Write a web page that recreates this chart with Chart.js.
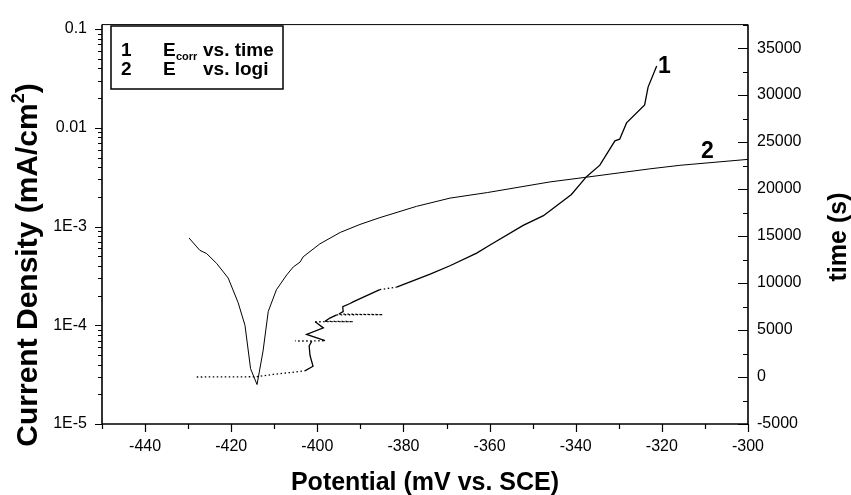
<!DOCTYPE html>
<html>
<head>
<meta charset="utf-8">
<script src="https://cdn.jsdelivr.net/npm/chart.js@4"></script>
<style>
  html, body { margin: 0; padding: 0; background: #fff; }
  #wrap { width: 851px; height: 495px; position: relative; }
</style>
</head>
<body>
<div id="wrap"><canvas id="polChart"></canvas></div>
<script>
// curve 2: E vs. log i  (potential in mV, current density in mA/cm2)
const potential2 = [-429.8, -427.3, -425.7, -423.4, -420.7, -418.4, -416.8, -415.5, -414.0,
  -412.6, -411.4, -409.5, -407.1, -405.6, -404.0, -403.3, -399.4, -394.7, -390.1, -385.5,
  -377.0, -369.2, -360.5, -346.0, -337.5, -322.8, -315.8, -300.0];
const current2 = [7.66e-4, 5.75e-4, 5.32e-4, 4.24e-4, 3.01e-4, 1.70e-4, 1.0e-4, 3.63e-5, 2.51e-5,
  5.50e-5, 1.38e-4, 2.29e-4, 3.24e-4, 3.89e-4, 4.37e-4, 4.93e-4, 6.68e-4, 8.71e-4, 1.05e-3, 1.23e-3,
  1.60e-3, 1.94e-3, 2.21e-3, 2.83e-3, 3.16e-3, 3.84e-3, 4.17e-3, 4.79e-3];

// curve 1: Ecorr vs. time (potential in mV, time in s)
const potential1 = [-428.0, -414.1, -410.2, -402.9, -401.0, -401.7, -401.9, -401.3, -405.2, -398.2,
  -402.5, -398.6, -400.5, -391.7, -398.2, -397.1, -395.5, -384.8, -395.0, -394.0, -394.1, -392.4,
  -391.7, -385.5, -381.6, -373.8, -369.2, -363.0, -359.9, -352.2, -347.5, -341.0, -337.5, -334.4,
  -330.9, -329.8, -328.2, -324.0, -323.2, -321.2];
const time1 = [0, 30, 280, 650, 1140, 2290, 3320, 3800, 3840, 3860,
  4540, 5230, 5880, 5900, 5920, 6270, 6620, 6640, 6700, 6960, 7480, 7820,
  8000, 9300, 9560, 10940, 11840, 13190, 14050, 16130, 17170, 19420, 21320, 22540,
  25130, 25310, 27040, 28950, 30850, 33100];

const potentialTicks = [-440, -420, -400, -380, -360, -340, -320, -300];
const currentTicks = [1e-5, 1e-4, 1e-3, 1e-2, 1e-1];
const currentTickLabels = ['1E-5', '1E-4', '1E-3', '0.01', '0.1'];
const timeTicks = [-5000, 0, 5000, 10000, 15000, 20000, 25000, 30000, 35000];

const FONT = '"Liberation Sans", Arial, sans-serif';
Chart.defaults.font.family = FONT;
Chart.defaults.color = '#000';

function fixTicks(values) {
  return scale => { scale.ticks = values.map(v => ({ value: v })); };
}

// axes, ticks, titles, legend box and curve numbers
const framePlugin = {
  id: 'frame',
  afterDraw(chart) {
    const { ctx, chartArea: a, scales } = chart;
    const x = scales.x, yI = scales.yI, yT = scales.yT;
    ctx.save();
    ctx.strokeStyle = '#000';
    ctx.fillStyle = '#000';

    // frame
    ctx.lineWidth = 1;
    ctx.beginPath();
    ctx.moveTo(a.left, a.top); ctx.lineTo(a.right, a.top);
    ctx.stroke();
    ctx.lineWidth = 1.6;
    ctx.beginPath();
    ctx.moveTo(a.left, a.top); ctx.lineTo(a.left, a.bottom);
    ctx.lineTo(a.right, a.bottom); ctx.lineTo(a.right, a.top);
    ctx.stroke();

    ctx.lineWidth = 1.2;
    ctx.beginPath();
    // bottom ticks, every 10 mV
    for (let v = -450; v <= -300; v += 10) {
      const px = Math.round(x.getPixelForValue(v)) + 0.5;
      const len = v % 20 === 0 ? 8 : 5;
      ctx.moveTo(px, a.bottom); ctx.lineTo(px, a.bottom + len);
    }
    // left log ticks
    for (let d = -5; d <= -1; d++) {
      for (let m = 1; m <= 9; m++) {
        const v = m * Math.pow(10, d);
        if (v > yI.max) continue;
        const py = Math.round(yI.getPixelForValue(v)) + 0.5;
        const len = m === 1 ? 7 : 4;
        ctx.moveTo(a.left - len, py); ctx.lineTo(a.left, py);
      }
    }
    // right ticks (inward)
    for (let v = -5000; v <= 37500; v += 2500) {
      const py = Math.round(yT.getPixelForValue(v)) + 0.5;
      const len = v % 5000 === 0 ? 10 : 5;
      ctx.moveTo(a.right - len, py); ctx.lineTo(a.right, py);
    }
    ctx.stroke();

    // axis titles
    ctx.font = 'bold 25px ' + FONT;
    ctx.textAlign = 'center';
    ctx.textBaseline = 'alphabetic';
    ctx.fillText('Potential (mV vs. SCE)', (a.left + a.right) / 2, 490);

    ctx.save();
    ctx.translate(846, 237);
    ctx.rotate(-Math.PI / 2);
    ctx.fillText('time (s)', 0, 0);
    ctx.restore();

    ctx.save();
    ctx.translate(37, 265);
    ctx.rotate(-Math.PI / 2);
    ctx.textAlign = 'left';
    const big = 'bold 30px ' + FONT, sup = 'bold 18px ' + FONT;
    ctx.font = big;
    const w1 = ctx.measureText('Current Density (mA/cm').width;
    const w3 = ctx.measureText(')').width;
    ctx.font = sup;
    const w2 = ctx.measureText('2').width;
    let cx = -(w1 + w2 + w3) / 2;
    ctx.font = big;
    ctx.fillText('Current Density (mA/cm', cx, 0);
    ctx.font = sup;
    ctx.fillText('2', cx + w1, -13);
    ctx.font = big;
    ctx.fillText(')', cx + w1 + w2, 0);
    ctx.restore();

    // legend box
    ctx.lineWidth = 1.5;
    ctx.strokeRect(111, 26, 172, 63);
    ctx.textAlign = 'left';
    ctx.font = 'bold 19px ' + FONT;
    ctx.fillText('1', 121, 56);
    ctx.fillText('E', 163, 56);
    ctx.fillText('vs. time', 203, 56);
    ctx.fillText('2', 121, 75);
    ctx.fillText('E', 163, 75);
    ctx.fillText('vs. logi', 203, 75);
    ctx.font = 'bold 11px ' + FONT;
    ctx.fillText('corr', 176, 60);

    // curve numbers, anchored in data space
    ctx.font = 'bold 23px ' + FONT;
    ctx.fillText('1', x.getPixelForValue(-320.9), yT.getPixelForValue(32400));
    ctx.fillText('2', x.getPixelForValue(-310.9), yI.getPixelForValue(4.97e-3));
    ctx.restore();
  }
};

// dotted where the recorded points are sparse (mostly horizontal jumps)
function sparseDash(c) {
  const dx = Math.abs(c.p1.x - c.p0.x), dy = Math.abs(c.p1.y - c.p0.y);
  return (dx > 6 && dy < 0.3 * dx) ? [1.5, 2.5] : undefined;
}

new Chart(document.getElementById('polChart'), {
  type: 'line',
  data: {
    datasets: [
      {
        label: 'E vs. logi',
        data: potential2.map((p, i) => ({ x: p, y: current2[i] })),
        yAxisID: 'yI',
        borderColor: '#000',
        borderWidth: 1,
        pointRadius: 0,
        tension: 0
      },
      {
        label: 'Ecorr vs. time',
        data: potential1.map((p, i) => ({ x: p, y: time1[i] })),
        yAxisID: 'yT',
        borderColor: '#000',
        borderWidth: 1.3,
        pointRadius: 0,
        tension: 0,
        segment: { borderDash: sparseDash }
      }
    ]
  },
  options: {
    responsive: true,
    maintainAspectRatio: false,
    animation: false,
    layout: { padding: { top: 16, left: 0, right: 0, bottom: 0 } },
    plugins: { legend: { display: false }, tooltip: { enabled: false } },
    scales: {
      x: {
        type: 'linear',
        position: 'bottom',
        min: -450,
        max: -300,
        afterBuildTicks: fixTicks(potentialTicks),
        afterFit: s => { s.height = 71; },
        grid: { display: false, drawTicks: false },
        border: { display: false },
        ticks: { autoSkip: false, maxRotation: 0, padding: 13, font: { size: 16 } }
      },
      yI: {
        type: 'logarithmic',
        position: 'left',
        min: 1e-5,
        max: 0.111,
        afterBuildTicks: fixTicks(currentTicks),
        afterFit: s => { s.width = 102; },
        grid: { display: false, drawTicks: false },
        border: { display: false },
        ticks: {
          autoSkip: false,
          padding: 15,
          font: { size: 16 },
          callback: v => currentTickLabels[currentTicks.findIndex(t => Math.abs(t - v) / t < 1e-6)] ?? ''
        }
      },
      yT: {
        type: 'linear',
        position: 'right',
        min: -5000,
        max: 37500,
        afterBuildTicks: fixTicks(timeTicks),
        afterFit: s => { s.width = 103; },
        grid: { display: false, drawTicks: false },
        border: { display: false },
        ticks: { autoSkip: false, padding: 9, font: { size: 16 }, callback: v => String(v) }
      }
    }
  },
  plugins: [framePlugin]
});
</script>
</body>
</html>
